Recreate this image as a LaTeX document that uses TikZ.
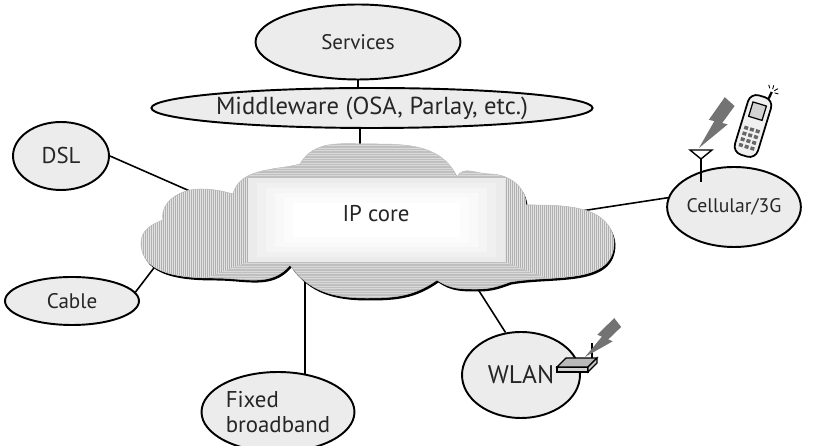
\documentclass[tikz,border=0pt]{standalone}
\usepackage{fontspec}
\setmainfont{PT Sans}
\usetikzlibrary{shapes.geometric,backgrounds}

\newcommand{\netfont}[1]{\fontsize{#1}{#1}\selectfont}

% outline of the core cloud
\newcommand{\cloudpath}{(163,226) to[out=100,in=180] (200,257) to[out=0,in=165] (233,252)
  to[out=75,in=190] (272,277) to[out=10,in=195] (300,282)
  to[out=60,in=180] (370,302) to[out=0,in=115] (457,269)
  to[out=65,in=180] (490,272) to[out=0,in=90] (526,241)
  to[out=0,in=95] (614,204)
  to[out=-90,in=10] (510,164)
  to[out=-160,in=0] (477,157) to[out=180,in=-35] (437,166)
  to[out=-145,in=0] (367,148) to[out=180,in=-55] (290,181)
  to[out=-130,in=0] (215,168) to[out=180,in=-90] (141,203)
  to[out=90,in=200] (163,226) -- cycle}

% lightning bolt: tip, angle, length
\newcommand{\bolt}[3]{%
  \fill[black!55, shift={(#1)}, rotate=#2, scale=#3]
    (0,0) -- (0.55,0.12) -- (0.50,0.21) -- (1,0.27) -- (1,0.03)
    -- (0.62,-0.01) -- (0.67,-0.10) -- cycle;}

\tikzset{
  net/.style={ellipse, draw, line width=1.1pt, fill=gray!15, inner sep=0pt,
    text=black!85, font=\netfont{12}},
  link/.style={line width=0.9pt},
}

\begin{document}
\begin{tikzpicture}[x=0.02cm, y=0.02cm]
\useasboundingbox (0,0) rectangle (816,446);

\node[net, minimum width=4.1cm, minimum height=1.5cm] (services) at (358,404) {Services};
\node[net, minimum width=7.3cm, minimum height=0.8cm, font=\netfont{14}] (mw) at (372,338) {Middleware (OSA, Parlay, etc.)};
\node[net, minimum width=1.92cm, minimum height=1.36cm, font=\netfont{13}] (dsl) at (61,290) {DSL};
\node[net, minimum width=2.68cm, minimum height=0.96cm] (cable) at (72,145) {Cable};
\node[net, minimum width=3.06cm, minimum height=1.6cm, align=left, font=\netfont{13}] (fixed) at (278,34) {Fixed\\[1pt]broadband};
\node[net, minimum width=2.36cm, minimum height=1.72cm, font=\netfont{14.5}] (wlan) at (521,71) {WLAN};
\node[net, minimum width=2.36cm, minimum height=1.6cm, font=\netfont{11.2}] (cell) at (734,239) {Cellular/3G};

% where the links meet the cloud
\coordinate (c-top) at (360,296);
\coordinate (c-dsl) at (192,254);
\coordinate (c-cable) at (160,186);
\coordinate (c-fixed) at (305,168);
\coordinate (c-wlan) at (474,163);
\coordinate (c-cell) at (568,233);

\begin{scope}[on background layer]
\draw[link] (services) -- (services |- mw);
\draw[link] (c-top |- mw) -- (c-top);
\draw[link] (dsl.east) -- (c-dsl);
\draw[link] (cable.8) -- (c-cable);
\draw[link] (c-fixed) -- (c-fixed |- fixed);
\draw[link] (wlan.110) -- (c-wlan);
\draw[link] (cell.172) -- (c-cell);
\end{scope}

% cloud with bevelled front face
\fill[black, shift={(1.5,-2.5)}] \cloudpath;
\begin{scope}
\clip \cloudpath;
\fill[gray!50] (130,140) rectangle (620,310);
\begin{scope}
\clip (130,140) -- (248,184) -- (248,268) -- (130,310) -- cycle;
\fill[gray!22] (130,140) rectangle (250,310);
\foreach \x in {131,133,...,250} \draw[gray!62, line width=0.5pt] (\x,140) -- (\x,310);
\end{scope}
\begin{scope}
\clip (620,140) -- (505,184) -- (505,268) -- (620,310) -- cycle;
\fill[gray!22] (503,140) rectangle (620,310);
\foreach \x in {504,506,...,620} \draw[gray!62, line width=0.5pt] (\x,140) -- (\x,310);
\end{scope}
\begin{scope}
\clip (130,310) -- (248,268) -- (505,268) -- (620,310) -- cycle;
\foreach \y in {268,270.5,...,310} \draw[gray!30, line width=0.5pt] (130,\y) -- (620,\y);
\end{scope}
\begin{scope}
\clip (130,140) -- (248,184) -- (505,184) -- (620,140) -- cycle;
\foreach \y in {140,142.5,...,184} \draw[gray!30, line width=0.5pt] (130,\y) -- (620,\y);
\end{scope}
\foreach \i/\c in {0/16,1/12,2/8,3/5,4/2,5/0}
  \fill[gray!\c] (248+\i*9,184+\i*5) rectangle (505-\i*9,268-\i*5);
\end{scope}
\draw[gray!50, line width=0.3pt] \cloudpath;

\node[text=black!85, font=\netfont{13}] (core) at (376,232) {IP core};

% antenna on the cellular node
\fill[white] (690,296) -- (712,296) -- (701,287) -- cycle;
\draw[line width=0.8pt] (690,296) -- (712,296) -- (701,287) -- cycle;
\draw[line width=0.8pt] (701,287) -- (701,264);
\bolt{699,298}{48}{55}

% handset
\begin{scope}[shift={(753,320)}, rotate=-17]
\draw[line width=1pt, fill=gray!12, rounded corners=5] (-12,-31) rectangle (12,31);
\draw[line width=0.7pt, fill=gray!35] (-7,8) rectangle (7,23);
\foreach \i in {0,1,2}
  \foreach \j in {0,1,2,3}
    \fill[black!60] (-8+\i*6,-2-\j*6) rectangle (-4+\i*6,-5.5-\j*6);
\draw[line width=1.3pt] (7,31) -- (8,38);
\draw[line width=0.5pt] (8,41) -- (8,45) (10,40) -- (13,43) (11,38) -- (15,38) (5,41) -- (3,44);
\end{scope}

% access point on the WLAN node
\draw[line width=0.8pt] (592,87) -- (592,103);
\bolt{585,89}{38}{47}
\draw[line width=0.7pt, fill=gray!35] (557,79) -- (588,79) -- (588,74) -- (557,74) -- cycle;
\draw[line width=0.7pt, fill=gray!55] (557,79) -- (566,88) -- (597,88) -- (588,79) -- cycle;
\draw[line width=0.7pt, fill=gray!45] (588,79) -- (597,88) -- (597,83) -- (588,74) -- cycle;
\end{tikzpicture}
\end{document}
